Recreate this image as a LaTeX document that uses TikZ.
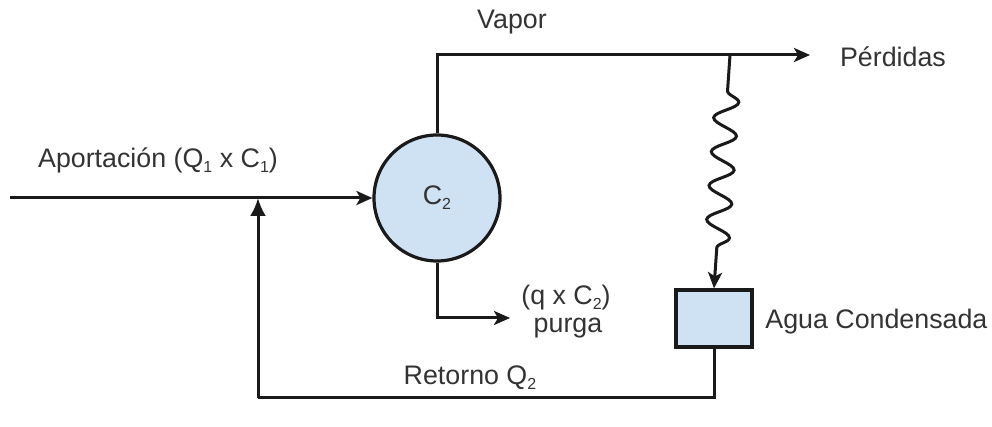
\documentclass[tikz,border=0pt]{standalone}
\usepackage{fontspec}
\setmainfont{Liberation Sans}
\usepackage{tikz}
\usetikzlibrary{arrows.meta,positioning,decorations.pathmorphing}
\definecolor{tankblue}{HTML}{CFE2F3}
\definecolor{inkgray}{HTML}{333333}
\definecolor{linegray}{HTML}{1A1A1A}
\newcommand{\sub}[1]{\raisebox{-0.35ex}{\footnotesize #1}}
\tikzset{
  vessel/.style={circle, draw=linegray, line width=1.6pt, fill=tankblue, minimum size=63pt, inner sep=0pt, font=\fontsize{13.4}{16}\selectfont, text=inkgray},
  tank/.style={rectangle, draw=linegray, line width=1.6pt, fill=tankblue, minimum width=38pt, minimum height=28.5pt, inner sep=0pt},
  ar/.style={-{Stealth[length=8pt, width=7pt, inset=2pt]}, line width=1.5pt, draw=linegray},
  arr/.style={-{Latex[length=9pt, width=8pt]}, line width=1.5pt, draw=linegray},
  ln/.style={line width=1.5pt, draw=linegray},
  lbl/.style={font=\fontsize{13.4}{16}\selectfont, text=inkgray, inner sep=0pt},
  wave/.style={decorate, decoration={snake, segment length=17pt, amplitude=6pt, pre length=18pt, post length=18pt}},
}
\begin{document}
\begin{tikzpicture}[x=0.5pt, y=-0.5pt]
  \useasboundingbox (0,0) rectangle (992,427);
  % equipos
  \node[vessel] (cald) at (437,198) {C\sub{2}};
  \node[tank] (cond) at (714,318.5) {};
  % puntos de paso
  \coordinate (inicio) at (10,198);
  \coordinate (union) at (258,198);
  \coordinate (codoV) at (437,55);
  \coordinate (finV) at (810,55);
  \coordinate (toma) at (730,55);
  \coordinate (codoP) at (437,318);
  \coordinate (finP) at (510,318);
  \coordinate (bajoR) at (714,398);
  \coordinate (codoR) at (258,398);
  % flujos
  \draw[ar] (inicio) -- (cald.west);
  \draw[ar] (cald.north) -- (codoV) -- (finV);
  \draw[ar] (cald.south) -- (codoP) -- (finP);
  \draw[ln] (cond.south) -- (bajoR) -- (codoR);
  \draw[arr] (codoR) -- (union);
  \draw[ln, -{Stealth[length=8pt, width=7pt, inset=2pt]}, wave] (toma) -- (cond.north);
  % textos
  \node[lbl] (aport) at (158,160) {Aportación (Q\sub{1} x C\sub{1})};
  \node[lbl] (vapor) at (512,22) {Vapor};
  \node[lbl] (perd) at (893,57) {Pérdidas};
  \node[lbl, anchor=west] (agua) at (765,322) {Agua Condensada};
  \node[lbl] (qc) at (566,298) {(q x C\sub{2})};
  \node[lbl] (purga) at (568,328) {purga};
  \node[lbl] (ret) at (470,378) {Retorno Q\sub{2}};
\end{tikzpicture}
\end{document}
